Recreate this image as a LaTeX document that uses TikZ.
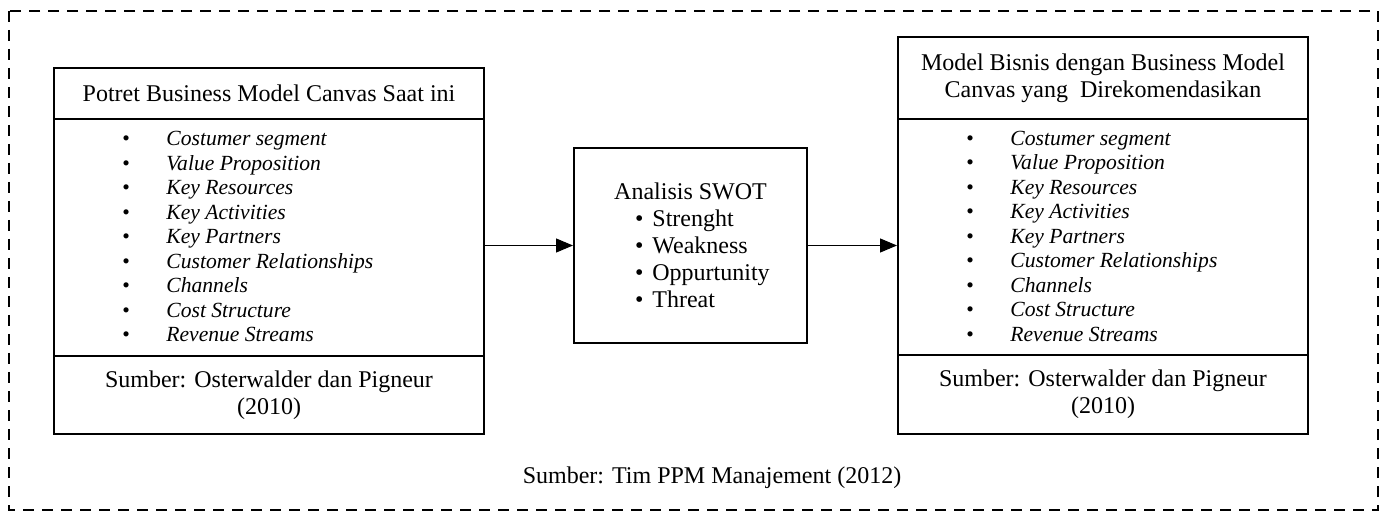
\documentclass[tikz,border=0pt]{standalone}
\usepackage{fontspec}
\setmainfont{Liberation Serif}
\usetikzlibrary{arrows.meta}
\newcommand{\itm}[1]{\makebox[22pt][l]{•}\textit{#1}}
\newcommand{\sw}[1]{\makebox[55.5pt][l]{•\hspace{4.5pt}#1}}
\newcommand{\bmclist}{\itm{Costumer segment}\\\itm{Value Proposition}\\\itm{Key Resources}\\\itm{Key Activities}\\\itm{Key Partners}\\\itm{Customer Relationships}\\\itm{Channels}\\\itm{Cost Structure}\\\itm{Revenue Streams}}
\tikzset{
  boxpart/.style={draw, line width=1pt, rectangle, inner sep=0pt, anchor=north west, align=center, font=\fontsize{12}{13.5}\selectfont},
  listtext/.style={inner sep=0pt, anchor=west, align=left, font=\fontsize{10.8}{12.25}\selectfont},
  plain/.style={inner sep=0pt, font=\fontsize{12}{13.5}\selectfont},
  arr/.style={line width=0.6pt, -{Triangle[length=8.5pt,width=7pt]}},
  frame/.style={line width=1pt, dash pattern=on 5.5pt off 4pt}
}
\begin{document}
\begin{tikzpicture}[x=0.5pt,y=-0.5pt]
\useasboundingbox (0,0) rectangle (1387,513);
\draw[frame] (9,11) rectangle (1378,510);
% left box
\node[boxpart, minimum width=215pt, minimum height=25.5pt] (lhead) at (53,67) {Potret Business Model Canvas Saat ini};
\node[boxpart, minimum width=215pt, minimum height=118.5pt] (llist) at (53,118) {};
\node[boxpart, minimum width=215pt, minimum height=39pt] (lfoot) at (53,355) {Sumber: Osterwalder dan Pigneur\\(2010)};
\node[listtext] (litems) at ([xshift=34.5pt,yshift=0.5pt]llist.west) {\bmclist};
% middle box
\node[boxpart, minimum width=116.5pt, minimum height=97.5pt] (swot) at (573,147) {Analisis SWOT\\\sw{Strenght}\\\sw{Weakness}\\\sw{Oppurtunity}\\\sw{Threat}};
% right box
\node[boxpart, minimum width=205pt, minimum height=41pt] (rhead) at (897,36) {Model Bisnis dengan Business Model\\Canvas yang\ \ Direkomendasikan};
\node[boxpart, minimum width=205pt, minimum height=118pt] (rlist) at (897,118) {};
\node[boxpart, minimum width=205pt, minimum height=39.5pt] (rfoot) at (897,354) {Sumber: Osterwalder dan Pigneur\\(2010)};
\node[listtext] (ritems) at ([xshift=34.5pt,yshift=0.5pt]rlist.west) {\bmclist};
% arrows
\draw[arr] (llist.east |- swot.west) -- (swot.west);
\draw[arr] (swot.east) -- (rlist.west |- swot.east);
% bottom source
\node[plain] (src) at (712,478) {Sumber: Tim PPM Manajement (2012)};
\end{tikzpicture}
\end{document}
